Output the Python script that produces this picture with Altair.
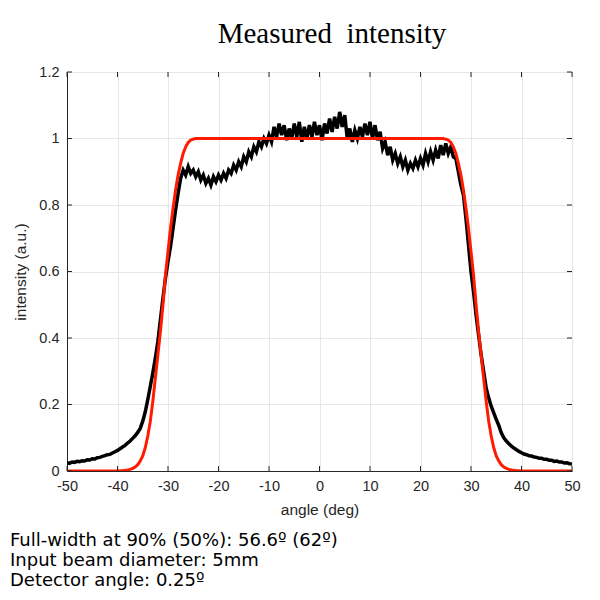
import altair as alt
import pandas as pd

# sample grid: -50 .. 50 deg in 0.5 deg steps
angle = [i * 0.5 - 50 for i in range(201)]

measured = [
    0.025, 0.023, 0.027, 0.026, 0.029, 0.028, 0.031, 0.030, 0.034, 0.033,
    0.037, 0.036, 0.040, 0.041, 0.044, 0.046, 0.049, 0.050, 0.054, 0.058,
    0.062, 0.067, 0.072, 0.077, 0.084, 0.090, 0.098, 0.106, 0.116, 0.128,
    0.150, 0.178, 0.215, 0.255, 0.295, 0.340, 0.390, 0.455, 0.520, 0.580,
    0.630, 0.675, 0.730, 0.785, 0.835, 0.880, 0.905, 0.890, 0.915, 0.895,
    0.905, 0.885, 0.900, 0.875, 0.890, 0.865, 0.880, 0.860, 0.885, 0.870,
    0.890, 0.875, 0.895, 0.880, 0.905, 0.895, 0.920, 0.905, 0.930, 0.915,
    0.945, 0.930, 0.960, 0.945, 0.975, 0.960, 0.990, 0.975, 1.000, 0.985,
    1.010, 0.990, 1.035, 1.005, 1.045, 1.010, 1.040, 0.995, 1.030, 1.000,
    1.045, 1.005, 1.050, 0.990, 1.035, 1.000, 1.040, 1.005, 1.050, 1.010,
    1.040, 0.995, 1.045, 1.015, 1.060, 1.020, 1.065, 1.030, 1.080, 1.035,
    1.070, 1.000, 1.030, 0.990, 1.025, 1.000, 1.035, 1.005, 1.045, 1.010,
    1.050, 1.000, 1.040, 0.995, 1.020, 0.970, 0.990, 0.950, 0.975, 0.935,
    0.955, 0.925, 0.945, 0.915, 0.935, 0.905, 0.925, 0.910, 0.935, 0.915,
    0.940, 0.920, 0.955, 0.930, 0.960, 0.935, 0.965, 0.940, 0.980, 0.950,
    0.985, 0.955, 0.975, 0.945, 0.940, 0.900, 0.860, 0.830, 0.760, 0.680,
    0.600, 0.540, 0.470, 0.410, 0.350, 0.300, 0.250, 0.220, 0.195, 0.175,
    0.155, 0.137, 0.115, 0.100, 0.090, 0.082, 0.075, 0.069, 0.064, 0.059,
    0.055, 0.051, 0.049, 0.046, 0.045, 0.042, 0.041, 0.038, 0.038, 0.035,
    0.035, 0.032, 0.032, 0.029, 0.030, 0.027, 0.027, 0.024, 0.025, 0.022,
    0.021,
]

model = [
    0.000, 0.000, 0.000, 0.000, 0.000, 0.000, 0.000, 0.000, 0.000, 0.000,
    0.000, 0.000, 0.000, 0.000, 0.000, 0.000, 0.000, 0.000, 0.000, 0.000,
    0.000, 0.001, 0.001, 0.002, 0.003, 0.005, 0.008, 0.012, 0.019, 0.030,
    0.045, 0.070, 0.105, 0.150, 0.210, 0.280, 0.350, 0.420, 0.500, 0.590,
    0.660, 0.730, 0.790, 0.845, 0.890, 0.925, 0.955, 0.975, 0.988, 0.995,
    0.998, 1.000, 1.000, 1.000, 1.000, 1.000, 1.000, 1.000, 1.000, 1.000,
    1.000, 1.000, 1.000, 1.000, 1.000, 1.000, 1.000, 1.000, 1.000, 1.000,
    1.000, 1.000, 1.000, 1.000, 1.000, 1.000, 1.000, 1.000, 1.000, 1.000,
    1.000, 1.000, 1.000, 1.000, 1.000, 1.000, 1.000, 1.000, 1.000, 1.000,
    1.000, 1.000, 1.000, 1.000, 1.000, 1.000, 1.000, 1.000, 1.000, 1.000,
    1.000, 1.000, 1.000, 1.000, 1.000, 1.000, 1.000, 1.000, 1.000, 1.000,
    1.000, 1.000, 1.000, 1.000, 1.000, 1.000, 1.000, 1.000, 1.000, 1.000,
    1.000, 1.000, 1.000, 1.000, 1.000, 1.000, 1.000, 1.000, 1.000, 1.000,
    1.000, 1.000, 1.000, 1.000, 1.000, 1.000, 1.000, 1.000, 1.000, 1.000,
    1.000, 1.000, 1.000, 1.000, 1.000, 1.000, 1.000, 1.000, 1.000, 1.000,
    0.998, 0.995, 0.988, 0.975, 0.955, 0.925, 0.890, 0.845, 0.790, 0.730,
    0.660, 0.590, 0.500, 0.420, 0.350, 0.280, 0.210, 0.150, 0.105, 0.070,
    0.045, 0.030, 0.019, 0.012, 0.008, 0.005, 0.003, 0.002, 0.001, 0.001,
    0.000, 0.000, 0.000, 0.000, 0.000, 0.000, 0.000, 0.000, 0.000, 0.000,
    0.000, 0.000, 0.000, 0.000, 0.000, 0.000, 0.000, 0.000, 0.000, 0.000,
    0.000,
]

x_ticks = [-50, -40, -30, -20, -10, 0, 10, 20, 30, 40, 50]
y_ticks = [0, 0.2, 0.4, 0.6, 0.8, 1.0, 1.2]

title_text = "Measured\u00a0 intensity"
notes = [
    "Full-width at 90% (50%): 56.6º (62º)",
    "Input beam diameter: 5mm",
    "Detector angle: 0.25º",
]

df = pd.DataFrame({"angle": angle, "measured": measured, "model": model})
xt = pd.DataFrame({"v": x_ticks})
yt = pd.DataFrame({"v": y_ticks})

x_scale = alt.Scale(domain=[-50, 50], nice=False, zero=False)
y_scale = alt.Scale(domain=[0, 1.2], nice=False)

meas = alt.Chart(df).mark_line(color="#000000", strokeWidth=3.5, clip=True).encode(
    x=alt.X("angle:Q", scale=x_scale,
            axis=alt.Axis(values=x_ticks, title="angle (deg)",
                          labelExpr="'' + datum.value", labelOverlap=False,
                          labelFlush=False)),
    y=alt.Y("measured:Q", scale=y_scale,
            axis=alt.Axis(values=y_ticks, title="intensity (a.u.)",
                          labelExpr="'' + datum.value", labelOverlap=False,
                          labelFlush=False)),
)
mod = alt.Chart(df).mark_line(color="#ff1a00", strokeWidth=3, clip=True).encode(
    x=alt.X("angle:Q"),
    y=alt.Y("model:Q"),
)

tick_col = "#262626"
# inward ticks on all four sides
xb = alt.Chart(xt).mark_rule(color=tick_col, strokeWidth=1).encode(
    x=alt.X("v:Q"), y=alt.value(399), y2=alt.value(394))
xtop = alt.Chart(xt).mark_rule(color=tick_col, strokeWidth=1).encode(
    x=alt.X("v:Q"), y=alt.value(0), y2=alt.value(5))
yl = alt.Chart(yt).mark_rule(color=tick_col, strokeWidth=1).encode(
    y=alt.Y("v:Q"), x=alt.value(0), x2=alt.value(5))
yr = alt.Chart(yt).mark_rule(color=tick_col, strokeWidth=1).encode(
    y=alt.Y("v:Q"), x=alt.value(505), x2=alt.value(500))

one = alt.Data(values=[{"k": 1}])
title_mark = alt.Chart(one).mark_text(
    text=title_text, font="Liberation Serif", fontSize=29, align="center",
    baseline="alphabetic", color="#000000",
).encode(x=alt.value(265), y=alt.value(-29))

notes_mark = alt.Chart(one).mark_text(
    text=notes, font="DejaVu Sans", fontSize=18, align="left",
    baseline="alphabetic", lineHeight=20, color="#000000",
).encode(x=alt.value(-57), y=alt.value(474))

chart = alt.layer(meas, mod, xb, xtop, yl, yr, title_mark, notes_mark).properties(
    width=505, height=399,
    autosize=alt.AutoSizeParams(type="none"),
    padding={"left": 59, "top": 64, "right": 16, "bottom": 119},
    background="white",
).configure_axis(
    labelFont="Liberation Sans", labelFontSize=14.5, labelColor="#262626",
    titleFont="Liberation Sans", titleFontSize=15.5, titleColor="#262626",
    titleFontWeight="normal",
    domainColor="#262626", tickSize=0,
    gridColor="#e6e6e6", gridWidth=1,
).configure_axisX(
    labelPadding=8, titlePadding=10,
).configure_axisY(
    labelPadding=8, titlePadding=10,
).configure_view(
    stroke="#262626", strokeWidth=1,
)

chart.save("out.html", embed_options={"renderer": "svg", "actions": False})
